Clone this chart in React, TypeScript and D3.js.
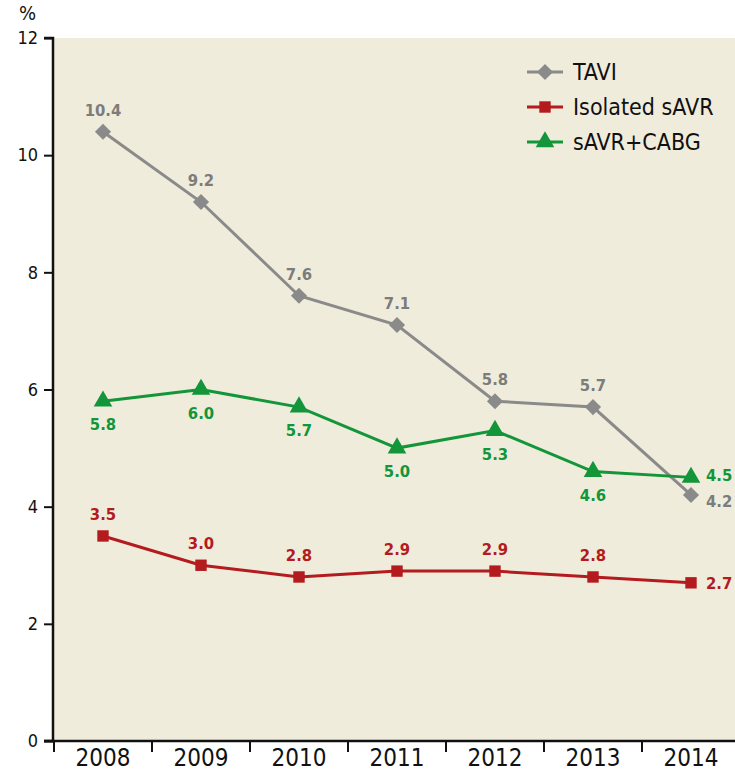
import React from "react";
import * as d3 from "d3";

const years = ["2008", "2009", "2010", "2011", "2012", "2013", "2014"];
const tavi = [10.4, 9.2, 7.6, 7.1, 5.8, 5.7, 4.2];
const isolatedSavr = [3.5, 3.0, 2.8, 2.9, 2.9, 2.8, 2.7];
const savrCabg = [5.8, 6.0, 5.7, 5.0, 5.3, 4.6, 4.5];
const yTicks = [0, 2, 4, 6, 8, 10, 12];

const W = 735;
const H = 774;
const margin = { top: 38, right: -5, bottom: 33, left: 54 };
const font = "'Liberation Sans Narrow', 'DejaVu Sans Condensed', 'Arial Narrow', sans-serif";

export default function App() {
  const ref = React.useRef<SVGSVGElement>(null);

  React.useEffect(() => {
    const svg = d3.select(ref.current);
    svg.selectAll("*").remove();

    const width = W - margin.left - margin.right;
    const height = H - margin.top - margin.bottom;

    const x = d3.scaleBand().domain(years).range([0, width]).padding(0);
    const y = d3.scaleLinear().domain([0, 12]).range([height, 0]);

    const g = svg.append("g").attr("transform", `translate(${margin.left},${margin.top})`);

    // background
    g.append("rect")
      .attr("x", 0)
      .attr("y", 0)
      .attr("width", width)
      .attr("height", height)
      .attr("fill", "#f0ecdb");

    // y axis
    const yAxis = g.append("g").attr("transform", "translate(-1,0)").call(d3.axisLeft(y).tickValues(yTicks).tickSize(9).tickPadding(6));
    yAxis.select(".domain").attr("stroke", "#111").attr("stroke-width", 2.5).attr("d", `M-9,0H0V${height}H-9`);
    yAxis.selectAll(".tick line").attr("stroke", "#111").attr("stroke-width", 2);
    yAxis.selectAll(".tick text")
      .attr("font-family", font)
      .attr("font-size", 18)
      .attr("fill", "#111");

    // x axis
    const xAxis = g.append("g").attr("transform", `translate(0,${height})`).call(d3.axisBottom(x).tickSize(0).tickPadding(8));
    xAxis.select(".domain").attr("stroke", "#111").attr("stroke-width", 2.5).attr("d", `M-10,0H${width}`);
    xAxis.selectAll(".tick text")
      .attr("font-family", font)
      .attr("font-size", 24)
      .attr("fill", "#111")
      .attr("dy", "0.72em");
    g.append("g")
      .selectAll("line")
      .data(years)
      .join("line")
      .attr("x1", (d) => x(d)!)
      .attr("x2", (d) => x(d)!)
      .attr("y1", height)
      .attr("y2", height + 11)
      .attr("stroke", "#111")
      .attr("stroke-width", 2);

    // % label
    svg.append("text")
      .attr("x", 19)
      .attr("y", 20)
      .attr("font-family", font)
      .attr("font-size", 20)
      .attr("fill", "#111")
      .text("%");

    const cx = (i: number) => x(years[i])! + x.bandwidth() / 2;
    const line = d3.line<number>().x((_, i) => cx(i)).y((d) => y(d));

    const series = [
      { name: "TAVI", values: tavi, color: "#8a8a8a", labelColor: "#7c7c7c", symbol: d3.symbolSquare, size: 130, rotate: 45, labelPos: "above", lastDy: 12 },
      { name: "Isolated sAVR", values: isolatedSavr, color: "#b31b1f", labelColor: "#b31b1f", symbol: d3.symbolSquare, size: 130, rotate: 0, labelPos: "above", lastDy: 6 },
      { name: "sAVR+CABG", values: savrCabg, color: "#13953a", labelColor: "#13953a", symbol: d3.symbolTriangle, size: 150, rotate: 0, labelPos: "below", lastDy: 4 },
    ];

    series.forEach((s) => {
      g.append("path")
        .datum(s.values)
        .attr("fill", "none")
        .attr("stroke", s.color)
        .attr("stroke-width", 3)
        .attr("d", line);
    });

    series.forEach((s) => {
      g.append("g")
        .selectAll("path")
        .data(s.values)
        .join("path")
        .attr("transform", (d, i) => `translate(${cx(i)},${y(d)}) rotate(${s.rotate})`)
        .attr("d", d3.symbol(s.symbol, s.size)())
        .attr("fill", s.color);

      g.append("g")
        .selectAll("text")
        .data(s.values)
        .join("text")
        .attr("x", (d, i) => (i === years.length - 1 ? cx(i) + 15 : cx(i)))
        .attr("y", (d, i) => {
          if (i === years.length - 1) return y(d) + s.lastDy;
          return s.labelPos === "above" ? y(d) - 16 : y(d) + 29;
        })
        .attr("text-anchor", (d, i) => (i === years.length - 1 ? "start" : "middle"))
        .attr("font-family", font)
        .attr("font-weight", "bold")
        .attr("font-size", 16.5)
        .attr("fill", s.labelColor)
        .text((d) => d.toFixed(1));
    });

    // legend
    const legend = svg.append("g").attr("transform", "translate(527,72)");
    series.forEach((s, i) => {
      const row = legend.append("g").attr("transform", `translate(0,${i * 35})`);
      row.append("line")
        .attr("x1", 0)
        .attr("x2", 36)
        .attr("stroke", s.color)
        .attr("stroke-width", 3);
      row.append("path")
        .attr("transform", `translate(18,0) rotate(${s.rotate})`)
        .attr("d", d3.symbol(s.symbol, s.size)())
        .attr("fill", s.color);
      row.append("text")
        .attr("x", 46)
        .attr("y", 8)
        .attr("font-family", font)
        .attr("font-size", 23)
        .attr("fill", "#111")
        .text(s.name);
    });
  }, []);

  return (
    <svg
      ref={ref}
      width={W}
      height={H}
      style={{ display: "block", position: "absolute", left: 0, top: 0, background: "#fff" }}
    />
  );
}
